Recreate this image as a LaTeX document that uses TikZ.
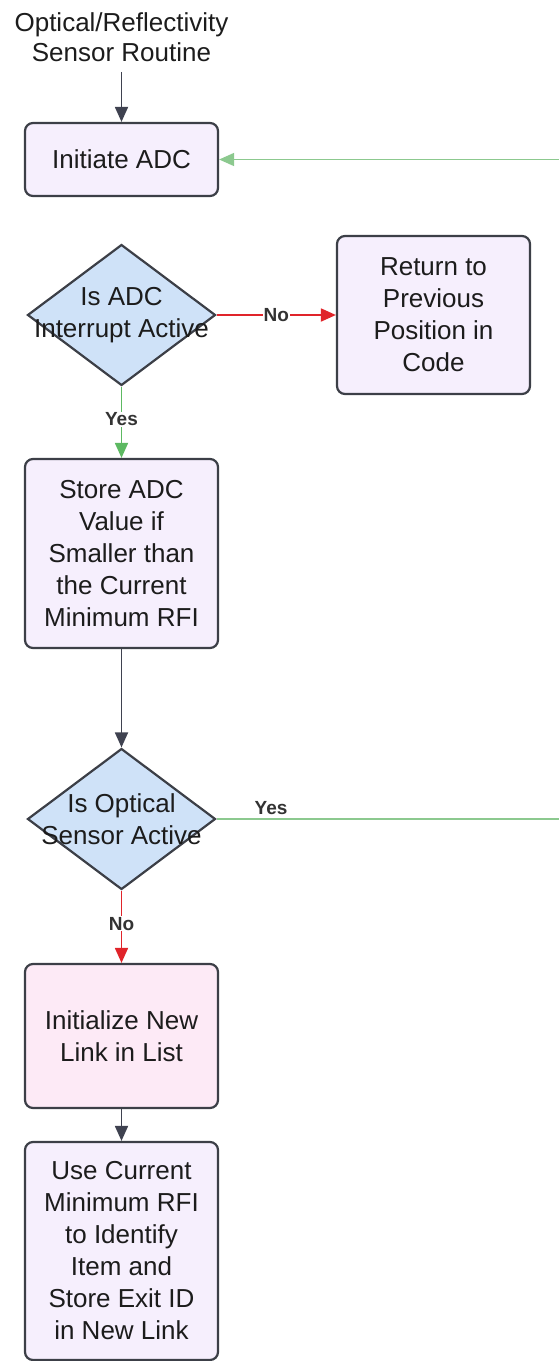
\documentclass[tikz,border=0pt]{standalone}
\usepackage{fontspec}
\setmainfont{Liberation Sans}
\usetikzlibrary{shapes.geometric,arrows.meta}
\definecolor{boxline}{HTML}{3C3F47}
\definecolor{boxfill}{HTML}{F6EFFD}
\definecolor{linkfill}{HTML}{FDEAF6}
\definecolor{decfill}{HTML}{CFE2F8}
\definecolor{arrowgray}{HTML}{3F4250}
\definecolor{yesgreen}{HTML}{5DB962}
\definecolor{loopgreen}{HTML}{8CC98F}
\definecolor{nored}{HTML}{E0242A}
\definecolor{textgray}{HTML}{1C1C1C}
\definecolor{labelgray}{HTML}{333333}

\begin{document}
\begin{tikzpicture}[x=1pt, y=-1pt,
  every node/.style={font=\fontsize{26}{32}\selectfont, text=textgray},
  procbox/.style={draw=boxline, line width=2.2pt, rounded corners=8pt, fill=boxfill, minimum width=193pt, align=center, inner sep=0pt},
  decision/.style={diamond, draw=boxline, line width=2.2pt, fill=decfill, minimum width=188pt, minimum height=141pt, inner sep=0pt, align=center},
  flow/.style={draw=arrowgray, line width=1.8pt, -{Triangle[length=15pt,width=13pt]}},
  yesflow/.style={flow, draw=yesgreen},
  noflow/.style={flow, draw=nored},
  answer/.style={font=\fontsize{19}{22}\selectfont\bfseries, text=labelgray, fill=white, inner sep=1pt}]
  \useasboundingbox (0,0) rectangle (558,1361);
  \node (title) [align=center, inner sep=10pt, font=\fontsize{26}{30}\selectfont] at (121.5, 37) {Optical/Reflectivity\\Sensor Routine};
  \node (init) [procbox, minimum height=73pt] at (121.5, 159.5) {Initiate ADC};
  \node (adcq) [decision] at (121.5, 315) {\makebox[0pt]{Is ADC}\\\makebox[0pt]{Interrupt Active}};
  \node (ret) [procbox, minimum height=158pt] at (433.5, 315) {Return to\\Previous\\Position in\\Code};
  \node (store) [procbox, minimum height=189pt] at (121.5, 553.5) {Store ADC\\Value if\\Smaller than\\the Current\\Minimum RFI};
  \node (optq) [decision] at (121.5, 819) {\makebox[0pt]{Is Optical}\\\makebox[0pt]{Sensor Active}};
  \node (link) [procbox, fill=linkfill, minimum height=144pt] at (121.5, 1036) {Initialize New\\Link in List};
  \node (use) [procbox, minimum height=218pt] at (121.5, 1251) {Use Current\\Minimum RFI\\to Identify\\Item and\\Store Exit ID\\in New Link};
  \coordinate (back) at (575, 159.5);
  \draw [flow] (title) -- (init);
  \draw [yesflow] (adcq) -- node [answer, yshift=3pt] {Yes} (store);
  \draw [noflow] (adcq) -- node [answer] {No} (ret);
  \draw [flow] (store) -- (optq);
  \draw [noflow] (optq) -- node [answer, yshift=3pt] {No} (link);
  \draw [flow] (link) -- (use);
  % loop back to the start when the sensor is still active
  \draw [yesflow, draw=loopgreen, line width=1.5pt] (optq.east) -| node [answer, above=3pt, pos=0.076] {Yes} (back) -- (init.east);
\end{tikzpicture}
\end{document}
